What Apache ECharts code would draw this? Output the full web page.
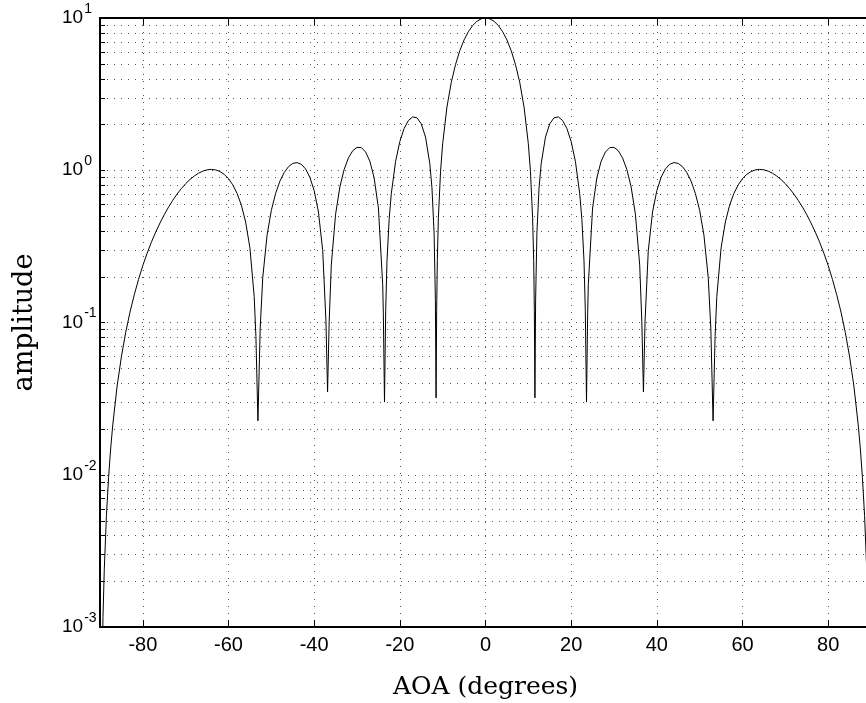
<!DOCTYPE html>
<html>
<head>
<meta charset="utf-8">
<script src="https://cdn.jsdelivr.net/npm/echarts@6/dist/echarts.min.js"></script>
<style>
html,body{margin:0;padding:0;background:#fff;}
#chart{width:866px;height:703px;}
</style>
</head>
<body>
<div id="chart"></div>
<script>
// Angle of arrival (degrees)
const angles = [
  -89.9, -89.6, -89.3, -89, -88.5, -88, -87.5, -87, -86, -85, -84, -83, -82, -81, -80,
  -79, -78, -77, -76, -75, -74, -73, -72, -71, -70, -69, -68, -67, -66, -65, -64, -63,
  -62, -61, -60, -59, -58, -57, -56, -55, -54, -53.6, -53.13, -52.6, -52, -51, -50,
  -49, -48, -47, -46, -45, -44, -43, -42, -41, -40, -39, -38, -37.25, -36.87, -36.5,
  -36, -35, -34, -33, -32, -31, -30, -29, -28, -27, -26, -25, -24, -23.85, -23.58,
  -23.3, -23, -22.5, -22, -21, -20, -19, -18, -17, -16, -15, -14, -13, -12.5, -12,
  -11.7, -11.54, -11.4, -11.25, -11, -10.5, -10, -9, -8, -7, -6, -5, -4, -3, -2, -1,
  0,
  1, 2, 3, 4, 5, 6, 7, 8, 9, 10, 10.5, 11, 11.25, 11.4, 11.54, 11.7, 12, 12.5, 13,
  14, 15, 16, 17, 18, 19, 20, 21, 22, 22.5, 23, 23.3, 23.58, 23.85, 24, 25, 26, 27,
  28, 29, 30, 31, 32, 33, 34, 35, 36, 36.5, 36.87, 37.25, 38, 39, 40, 41, 42, 43, 44,
  45, 46, 47, 48, 49, 50, 51, 52, 52.6, 53.13, 53.6, 54, 55, 56, 57, 58, 59, 60, 61,
  62, 63, 64, 65, 66, 67, 68, 69, 70, 71, 72, 73, 74, 75, 76, 77, 78, 79, 80, 81, 82,
  83, 84, 85, 86, 87, 87.5, 88, 88.5, 89, 89.3, 89.6, 89.9
];
// Amplitude
const amplitude = [
  0.00003, 0.00038, 0.00117, 0.00239, 0.00539, 0.00957, 0.0150, 0.0215, 0.0383, 0.0597, 0.086, 0.117, 0.152, 0.192, 0.237,
  0.285, 0.337, 0.392, 0.450, 0.511, 0.573, 0.635, 0.698, 0.758, 0.816, 0.869, 0.916, 0.956, 0.987, 1.006, 1.013, 1.005,
  0.981, 0.940, 0.881, 0.802, 0.705, 0.590, 0.457, 0.309, 0.148, 0.081, 0.0226, 0.092, 0.198, 0.374, 0.545,
  0.704, 0.848, 0.966, 1.055, 1.109, 1.123, 1.094, 1.020, 0.899, 0.735, 0.532, 0.296, 0.102, 0.035, 0.101,
  0.239, 0.514, 0.777, 1.012, 1.205, 1.343, 1.414, 1.408, 1.319, 1.147, 0.892, 0.565, 0.177, 0.115, 0.030,
  0.120, 0.252, 0.475, 0.700, 1.140, 1.544, 1.881, 2.122, 2.240, 2.211, 2.018, 1.650, 1.104, 0.766, 0.386,
  0.140, 0.032, 0.120, 0.255, 0.487, 0.976, 1.493, 2.599, 3.766, 4.949, 6.102, 7.179, 8.132, 8.924, 9.511, 9.876,
  10,
  9.876, 9.511, 8.924, 8.132, 7.179, 6.102, 4.949, 3.766, 2.599, 1.493, 0.976, 0.487, 0.255, 0.120, 0.032, 0.140, 0.386, 0.766, 1.104,
  1.650, 2.018, 2.211, 2.240, 2.122, 1.881, 1.544, 1.140, 0.700, 0.475, 0.252, 0.120, 0.030, 0.115, 0.177, 0.565, 0.892, 1.147,
  1.319, 1.408, 1.414, 1.343, 1.205, 1.012, 0.777, 0.514, 0.239, 0.101, 0.035, 0.102, 0.296, 0.532, 0.735, 0.899, 1.020, 1.094, 1.123,
  1.109, 1.055, 0.966, 0.848, 0.704, 0.545, 0.374, 0.198, 0.092, 0.0226, 0.081, 0.148, 0.309, 0.457, 0.590, 0.705, 0.802, 0.881, 0.940,
  0.981, 1.005, 1.013, 1.006, 0.987, 0.956, 0.916, 0.869, 0.816, 0.758, 0.698, 0.635, 0.573, 0.511, 0.450, 0.392, 0.337, 0.285, 0.237, 0.192, 0.152,
  0.117, 0.086, 0.0597, 0.0383, 0.0215, 0.0150, 0.00957, 0.00539, 0.00239, 0.00117, 0.00038, 0.00003
];
// Y tick values and exponent labels
const yTickValues = [0.001, 0.01, 0.1, 1, 10];
const yTickExponents = ['-3', '-2', '-1', '0', '1'];
const yMinorTicks = [
  0.002, 0.003, 0.004, 0.005, 0.006, 0.007, 0.008, 0.009,
  0.02, 0.03, 0.04, 0.05, 0.06, 0.07, 0.08, 0.09,
  0.2, 0.3, 0.4, 0.5, 0.6, 0.7, 0.8, 0.9,
  2, 3, 4, 5, 6, 7, 8, 9
];

const seriesData = angles.map((a, i) => [a, amplitude[i]]);
const GRID_DOT = '#555';
const DOT = [1, 6];
const SANS = 'Liberation Sans, Arial, sans-serif';

const chart = echarts.init(document.getElementById('chart'), null, {renderer: 'canvas'});
chart.setOption({
  animation: false,
  backgroundColor: '#fff',
  grid: {left: 100, top: 18, right: -5, bottom: 76, containLabel: false, outerBoundsMode: 'none'},
  xAxis: [{
    type: 'value', min: -90, max: 90, splitNumber: 9,
    name: 'AOA (degrees)', nameLocation: 'middle', nameGap: 48,
    nameTextStyle: {fontFamily: 'DejaVu Serif', fontSize: 25, color: '#000'},
    axisLine: {show: true, onZero: false, lineStyle: {color: '#000', width: 2}},
    axisTick: {show: true, inside: true, length: 7, lineStyle: {color: '#000', width: 1}},
    axisLabel: {show: true, margin: 8, color: '#000', fontFamily: SANS, fontSize: 20,
      showMinLabel: false, showMaxLabel: false},
    splitLine: {show: true, lineStyle: {color: GRID_DOT, width: 1, type: DOT}}
  }, {
    type: 'value', min: -90, max: 90, splitNumber: 9, position: 'top',
    axisLine: {show: true, onZero: false, lineStyle: {color: '#000', width: 2}},
    axisTick: {show: true, inside: true, length: 7, lineStyle: {color: '#000', width: 1}},
    axisLabel: {show: false},
    splitLine: {show: false}
  }],
  yAxis: {
    type: 'log', logBase: 10, min: 0.001, max: 10,
    name: 'amplitude', nameLocation: 'middle', nameGap: 62,
    nameTextStyle: {fontFamily: 'DejaVu Serif', fontSize: 27, color: '#000'},
    axisLine: {show: true, onZero: false, lineStyle: {color: '#000', width: 2}},
    axisTick: {show: true, inside: true, length: 5, lineStyle: {color: '#000', width: 1}},
    axisLabel: {
      show: true, margin: 38, align: 'left', color: '#000',
      formatter: function (v) {
        let idx = 0, best = Infinity;
        yTickValues.forEach((t, i) => { const d = Math.abs(Math.log10(t) - Math.log10(v)); if (d < best) { best = d; idx = i; } });
        return '{b|10}{s|' + yTickExponents[idx] + '}';
      },
      rich: {
        b: {fontFamily: SANS, fontSize: 19, color: '#000', lineHeight: 19},
        s: {fontFamily: SANS, fontSize: 14, color: '#000', lineHeight: 14, padding: [0, 0, 18, 1]}
      }
    },
    splitLine: {show: true, lineStyle: {color: GRID_DOT, width: 1, type: DOT}}
  },
  series: [{
    type: 'custom',
    coordinateSystem: 'cartesian2d',
    silent: true,
    z: 1,
    data: yMinorTicks.map(v => [0, v]),
    renderItem: function (params, api) {
      const p = api.coord([0, api.value(1)]);
      const cs = params.coordSys;
      const y = Math.round(p[1]) + 0.5;
      return {
        type: 'group',
        children: [
          {type: 'line', shape: {x1: cs.x, y1: y, x2: cs.x + cs.width, y2: y},
            style: {stroke: GRID_DOT, lineWidth: 1, lineDash: DOT}},
          {type: 'line', shape: {x1: cs.x, y1: y, x2: cs.x + 5, y2: y},
            style: {stroke: '#000', lineWidth: 1}}
        ]
      };
    }
  }, {
    type: 'line',
    data: seriesData,
    showSymbol: false,
    symbol: 'none',
    smooth: false,
    clip: true,
    z: 3,
    lineStyle: {color: '#000', width: 1}
  }]
});
</script>
</body>
</html>
